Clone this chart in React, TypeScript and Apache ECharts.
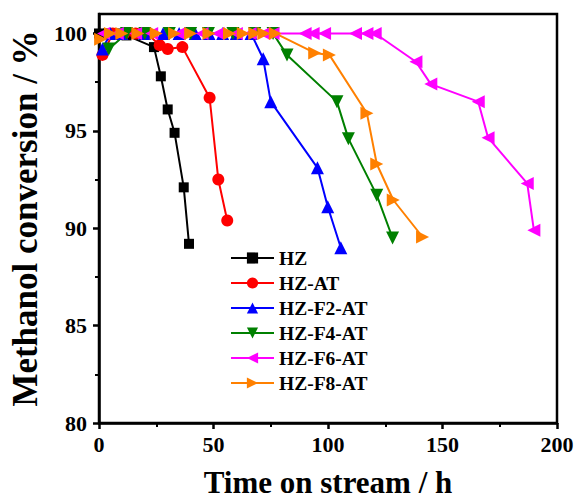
import React, { useEffect, useRef } from "react";
import * as echarts from "echarts";

// Time on stream (h) and methanol conversion (%) for each catalyst
const hzTime = [0, 4, 8, 12, 24, 27, 30, 33, 37, 39.3];
const hzConv = [100, 100, 100, 99.9, 99.3, 97.8, 96.1, 94.9, 92.1, 89.2];

const hzAtTime = [1.5, 6, 11, 16, 21, 26.5, 30, 36.4, 48.3, 52.1, 56];
const hzAtConv = [98.9, 100, 100, 100, 100, 99.4, 99.2, 99.3, 96.7, 92.5, 90.4];

const hzF2Time = [1.5, 5, 10, 20, 28, 35, 42, 48, 54, 60, 66.4, 71.7, 75, 95.4, 99.9, 105.6];
const hzF2Conv = [99.2, 100, 100, 100, 100, 100, 100, 100, 100, 100, 100, 98.7, 96.5, 93.1, 91.1, 89.0];

const hzF4Time = [4.3, 12, 20, 30.7, 40, 47.8, 58.5, 68, 76, 82.1, 103.9, 108.9, 121.3, 128.2];
const hzF4Conv = [99.2, 100, 100, 100, 100, 100, 100, 100, 100, 98.9, 96.5, 94.6, 91.7, 89.5];

const hzF6Time = [2, 8, 16, 23, 35, 45, 52, 60, 66, 72, 76, 90, 93.5, 98.5, 112, 117, 120.6, 138.4, 144.9, 165.6, 169.9, 187, 189.9];
const hzF6Conv = [100, 100, 100, 100, 100, 100, 100, 100, 100, 100, 100, 100, 100, 100, 100, 100, 100, 98.55, 97.4, 96.5, 94.65, 92.3, 89.9];

const hzF8Time = [0.7, 5, 10, 17, 25, 33, 40, 48, 57, 63, 68, 72, 77, 94.2, 100.6, 117, 121.3, 128.5, 141.3];
const hzF8Conv = [99.7, 100, 100, 100, 100, 100, 100, 100, 100, 100, 100, 100, 100, 99.0, 98.9, 95.9, 93.3, 91.45, 89.55];

const xTicks = [0, 50, 100, 150, 200];
const yTicks = [80, 85, 90, 95, 100];
const yMinorTicks = [82.5, 87.5, 92.5, 97.5];

const FONT = '"Liberation Serif", "Times New Roman", serif';

const pairs = (t: number[], v: number[]) => t.map((x, i) => [x, v[i]]);

export default function App() {
  const ref = useRef<HTMLDivElement>(null);

  useEffect(() => {
    if (!ref.current) return;
    const chart = echarts.init(ref.current, null, { renderer: "svg" });

    const mk = (
      name: string,
      t: number[],
      v: number[],
      color: string,
      symbol: string,
      symbolSize: number,
      symbolRotate = 0
    ) => ({
      name,
      type: "line",
      data: pairs(t, v),
      color,
      symbol,
      symbolSize,
      symbolRotate,
      showAllSymbol: true,
      lineStyle: { color, width: 2 },
      itemStyle: { color },
      emphasis: { disabled: true },
    });

    chart.setOption({
      animation: false,
      backgroundColor: "#fff",
      grid: {
        left: 90,
        top: 14,
        right: 20,
        bottom: 74,
        show: true,
        borderColor: "#000",
        borderWidth: 2.5,
        backgroundColor: "transparent",
      },
      legend: {
        orient: "vertical",
        left: 225,
        top: 243,
        itemWidth: 43,
        itemHeight: 14,
        itemGap: 5,
        textStyle: { fontFamily: FONT, fontWeight: "bold", fontSize: 19.5, color: "#000" },
        data: ["HZ", "HZ-AT", "HZ-F2-AT", "HZ-F4-AT", "HZ-F6-AT", "HZ-F8-AT"],
      },
      xAxis: {
        type: "value",
        min: 0,
        max: 200,
        interval: 50,
        name: "Time on stream / h",
        nameLocation: "middle",
        nameGap: 44,
        nameTextStyle: { fontFamily: FONT, fontWeight: "bold", fontSize: 31, color: "#000" },
        axisLine: { lineStyle: { color: "#000", width: 2.5 } },
        axisTick: { show: true, inside: false, length: 6, lineStyle: { color: "#000", width: 2.5 } },
        minorTick: { show: true, splitNumber: 2, length: 4, lineStyle: { color: "#000", width: 2 } },
        axisLabel: {
          margin: 10,
          customValues: xTicks,
          fontFamily: FONT,
          fontWeight: "bold",
          fontSize: 22,
          color: "#000",
        },
        splitLine: { show: false },
      },
      yAxis: [
        {
          type: "value",
          min: 80,
          max: 101,
          interval: 5,
          name: "Methanol conversion / %",
          nameLocation: "middle",
          nameGap: 56,
          nameTextStyle: { fontFamily: FONT, fontWeight: "bold", fontSize: 35, color: "#000" },
          axisLine: { lineStyle: { color: "#000", width: 2.5 } },
          axisTick: {
            show: true,
            inside: false,
            length: 6,
            customValues: yTicks,
            lineStyle: { color: "#000", width: 2.5 },
          },
          axisLabel: {
            margin: 12,
            customValues: yTicks,
            fontFamily: FONT,
            fontWeight: "bold",
            fontSize: 22,
            color: "#000",
          },
          splitLine: { show: false },
        },
        {
          type: "value",
          position: "left",
          min: 80,
          max: 101,
          interval: 5,
          axisLine: { show: false },
          axisTick: {
            show: true,
            inside: false,
            length: 4,
            customValues: yMinorTicks,
            lineStyle: { color: "#000", width: 2 },
          },
          axisLabel: { show: false },
          splitLine: { show: false },
        },
      ],
      series: [
        mk("HZ", hzTime, hzConv, "#000000", "rect", 10),
        mk("HZ-AT", hzAtTime, hzAtConv, "#ff0000", "circle", 12),
        mk("HZ-F2-AT", hzF2Time, hzF2Conv, "#0000ff", "triangle", 13),
        mk("HZ-F4-AT", hzF4Time, hzF4Conv, "#008000", "triangle", 13, 180),
        mk("HZ-F6-AT", hzF6Time, hzF6Conv, "#ff00ff", "triangle", 13, 90),
        mk("HZ-F8-AT", hzF8Time, hzF8Conv, "#ff8000", "triangle", 13, -90),
      ],
    });

    return () => chart.dispose();
  }, []);

  return (
    <div
      ref={ref}
      style={{ position: "fixed", left: 0, top: 0, width: 577, height: 503 }}
    />
  );
}
